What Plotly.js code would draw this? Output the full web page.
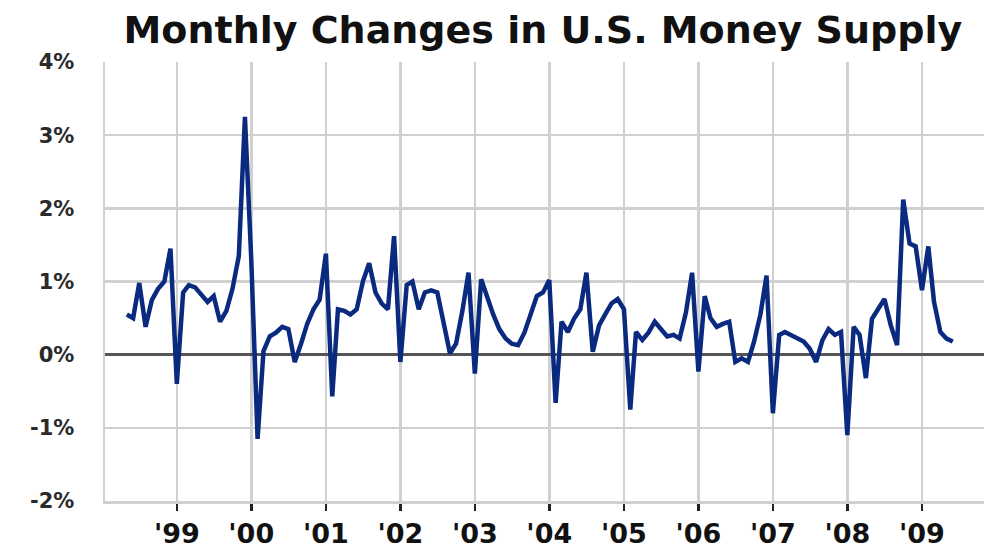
<!DOCTYPE html>
<html>
<head>
<meta charset="utf-8">
<script src="https://cdn.plot.ly/plotly-3.0.1.min.js"></script>
<style>
html,body{margin:0;padding:0;background:#fff;}
#chart{width:987px;height:553px;}
</style>
</head>
<body>
<div id="chart"></div>
<script>
// Monthly % change, May 1998 .. June 2009
var startYear = 1998, startMonth = 5;
var values = [
 0.55, 0.50, 0.98, 0.38, 0.75, 0.90, 1.00, 1.45, -0.40, 0.85,
 0.95, 0.92, 0.82, 0.72, 0.80, 0.45, 0.60, 0.90, 1.35, 3.25,
 1.30, -1.15, 0.05, 0.25, 0.30, 0.38, 0.35, -0.10, 0.15, 0.42,
 0.62, 0.75, 1.38, -0.57, 0.62, 0.60, 0.55, 0.62, 1.00, 1.25,
 0.85, 0.70, 0.62, 1.62, -0.10, 0.95, 1.00, 0.62, 0.85, 0.88,
 0.85, 0.45, 0.02, 0.15, 0.60, 1.12, -0.26, 1.03, 0.80, 0.55,
 0.35, 0.22, 0.15, 0.13, 0.30, 0.55, 0.80, 0.85, 1.02, -0.66,
 0.45, 0.31, 0.49, 0.62, 1.12, 0.04, 0.40, 0.55, 0.70, 0.76,
 0.62, -0.75, 0.31, 0.20, 0.30, 0.45, 0.35, 0.25, 0.27, 0.22,
 0.58, 1.12, -0.23, 0.80, 0.50, 0.38, 0.42, 0.45, -0.10, -0.05,
 -0.10, 0.18, 0.55, 1.08, -0.80, 0.27, 0.31, 0.27, 0.22, 0.18,
 0.08, -0.10, 0.20, 0.35, 0.27, 0.31, -1.10, 0.38, 0.27, -0.32,
 0.49, 0.62, 0.76, 0.40, 0.13, 2.12, 1.52, 1.48, 0.88, 1.48,
 0.72, 0.31, 0.22, 0.18
];
var yearTickVals = ['1999-01-01','2000-01-01','2001-01-01','2002-01-01','2003-01-01','2004-01-01','2005-01-01','2006-01-01','2007-01-01','2008-01-01','2009-01-01'];
var yearTickText = ["'99","'00","'01","'02","'03","'04","'05","'06","'07","'08","'09"];
var pctTickVals = [-2,-1,0,1,2,3,4];
var pctTickText = ['-2%','-1%','0%','1%','2%','3%','4%'];

var months = [];
for (var i = 0; i < values.length; i++) {
  var m = startMonth - 1 + i;
  var y = startYear + Math.floor(m / 12);
  var mm = (m % 12) + 1;
  months.push(y + '-' + (mm < 10 ? '0' + mm : mm) + '-01');
}

var trace = {
  x: months, y: values, type: 'scatter', mode: 'lines',
  line: {color: '#0a2a80', width: 4.5},
  hoverinfo: 'none'
};

var layout = {
  width: 987, height: 553,
  margin: {l: 105, r: 3, t: 62, b: 52},
  paper_bgcolor: '#fff', plot_bgcolor: '#fff',
  showlegend: false,
  title: {
    text: '<b>Monthly Changes in U.S. Money Supply</b>',
    font: {family: 'DejaVu Sans, sans-serif', size: 38, color: '#111'},
    x: 0.55, xanchor: 'center', yref: 'container', y: 0.947, yanchor: 'middle'
  },
  xaxis: {
    type: 'date',
    range: ['1998-01-14', '2009-11-01'],
    tickvals: yearTickVals, ticktext: yearTickText,
    tickmode: 'array',
    showgrid: true, gridcolor: '#d0d0d0', gridwidth: 2.5,
    ticks: 'outside', ticklen: 7, tickwidth: 2.5, tickcolor: '#222',
    showline: true, linecolor: '#cfcfcf', linewidth: 2.5,
    ticklabelstandoff: 0,
    tickfont: {family: 'DejaVu Sans, sans-serif', size: 27, color: '#111', weight: 'bold'},
    zeroline: false, fixedrange: true
  },
  yaxis: {
    range: [-2, 4],
    tickvals: pctTickVals, ticktext: pctTickText, tickmode: 'array',
    showgrid: true, gridcolor: '#d0d0d0', gridwidth: 2.5,
    zeroline: true, zerolinecolor: '#555', zerolinewidth: 3.5,
    showline: true, linecolor: '#d0d0d0', linewidth: 2.5,
    ticks: '', ticklabelstandoff: 24,
    tickfont: {family: 'DejaVu Sans, sans-serif', size: 21, color: '#2a2a2a', weight: 'bold'},
    fixedrange: true
  }
};

Plotly.newPlot('chart', [trace], layout, {displayModeBar: false, staticPlot: true});
</script>
</body>
</html>
